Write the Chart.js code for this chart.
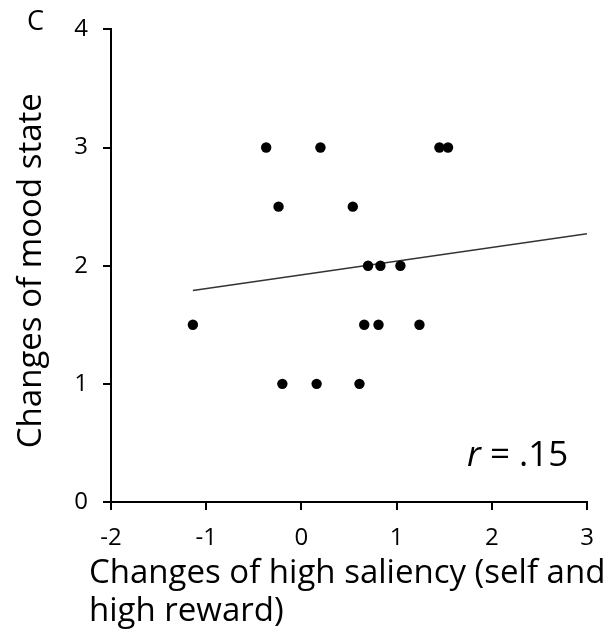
<!DOCTYPE html>
<html><head><meta charset="utf-8">
<script src="https://cdn.jsdelivr.net/npm/chart.js@4/dist/chart.umd.min.js"></script>
<style>html,body{margin:0;padding:0;background:#fff;}canvas{display:block;}</style>
</head><body>
<canvas id="c" width="611" height="633"></canvas>
<script>
// ---- data ----
const panelLabel = "C";
const yTitle = "Changes of mood state";
const xTitleLines = ["Changes of high saliency (self and", "high reward)"];
const rText = ".15";
const saliencyChange = [-0.37, 0.20, 1.45, 1.54, -0.24, 0.54, 0.70, 0.83, 1.04, -1.14, 0.66, 0.81, 1.24, -0.20, 0.16, 0.61];
const moodChange     = [3, 3, 3, 3, 2.5, 2.5, 2, 2, 2, 1.5, 1.5, 1.5, 1.5, 1, 1, 1];
const fitX = [-1.14, 3];
const fitY = [1.79, 2.27];
const xTicks = [-2, -1, 0, 1, 2, 3];
const yTicks = [0, 1, 2, 3, 4];

const FONT = "'Open Sans', sans-serif";
const points = saliencyChange.map((x, i) => ({x, y: moodChange[i]}));
const fit = fitX.map((x, i) => ({x, y: fitY[i]}));

const textPlugin = {
  id: 'texts',
  afterDraw(chart) {
    const ctx = chart.ctx;
    const a = chart.chartArea;
    ctx.save();
    ctx.fillStyle = '#000';
    ctx.textBaseline = 'alphabetic';
    // panel label
    ctx.font = "27px " + FONT;
    ctx.textAlign = 'left';
    ctx.fillText(panelLabel, 27, 30);
    // y title
    ctx.save();
    ctx.font = "33px " + FONT;
    ctx.translate(41, (a.top + a.bottom) / 2 + 5);
    ctx.rotate(-Math.PI / 2);
    ctx.textAlign = 'center';
    ctx.fillText(yTitle, 0, 0);
    ctx.restore();
    // x title
    ctx.font = "33px " + FONT;
    ctx.textAlign = 'left';
    ctx.fillText(xTitleLines[0], 89, 583);
    ctx.fillText(xTitleLines[1], 89, 621);
    // r label
    ctx.font = "italic 35px " + FONT;
    ctx.fillText("r", 467, 466);
    const rw = ctx.measureText("r").width;
    ctx.font = "35px " + FONT;
    ctx.fillText(" = " + rText, 467 + rw, 466);
    ctx.restore();
  }
};

new Chart(document.getElementById('c'), {
  type: 'scatter',
  data: {
    datasets: [
      { type: 'scatter', data: points, pointRadius: 5.2, pointHoverRadius: 5.2,
        pointBackgroundColor: '#000', pointBorderColor: '#000', pointBorderWidth: 0 },
      { type: 'line', data: fit, borderColor: '#333', borderWidth: 1.4,
        pointRadius: 0, fill: false, tension: 0 }
    ]
  },
  options: {
    responsive: false, animation: false, devicePixelRatio: 1,
    layout: { padding: { left: 0, top: 20, right: 24, bottom: 0 } },
    plugins: { legend: { display: false }, tooltip: { enabled: false } },
    scales: {
      x: {
        type: 'linear', min: xTicks[0], max: xTicks[xTicks.length - 1],
        afterBuildTicks(s) { s.ticks = xTicks.map(v => ({value: v})); },
        ticks: { color: '#000', font: { family: FONT, size: 24 }, padding: 14, maxRotation: 0 },
        grid: { drawOnChartArea: false, drawTicks: true, tickLength: 8, color: '#000', lineWidth: 2 },
        border: { display: true, color: '#000', width: 2 },
        afterFit(s) { s.height = 131; }
      },
      y: {
        type: 'linear', min: yTicks[0], max: yTicks[yTicks.length - 1],
        afterBuildTicks(s) { s.ticks = yTicks.map(v => ({value: v})); },
        ticks: { color: '#000', font: { family: FONT, size: 24 }, padding: 15 },
        grid: { drawOnChartArea: false, drawTicks: true, tickLength: 8, color: '#000', lineWidth: 2 },
        border: { display: true, color: '#000', width: 2 },
        afterFit(s) { s.width = 111; }
      }
    }
  },
  plugins: [textPlugin]
});
</script>
</body></html>
